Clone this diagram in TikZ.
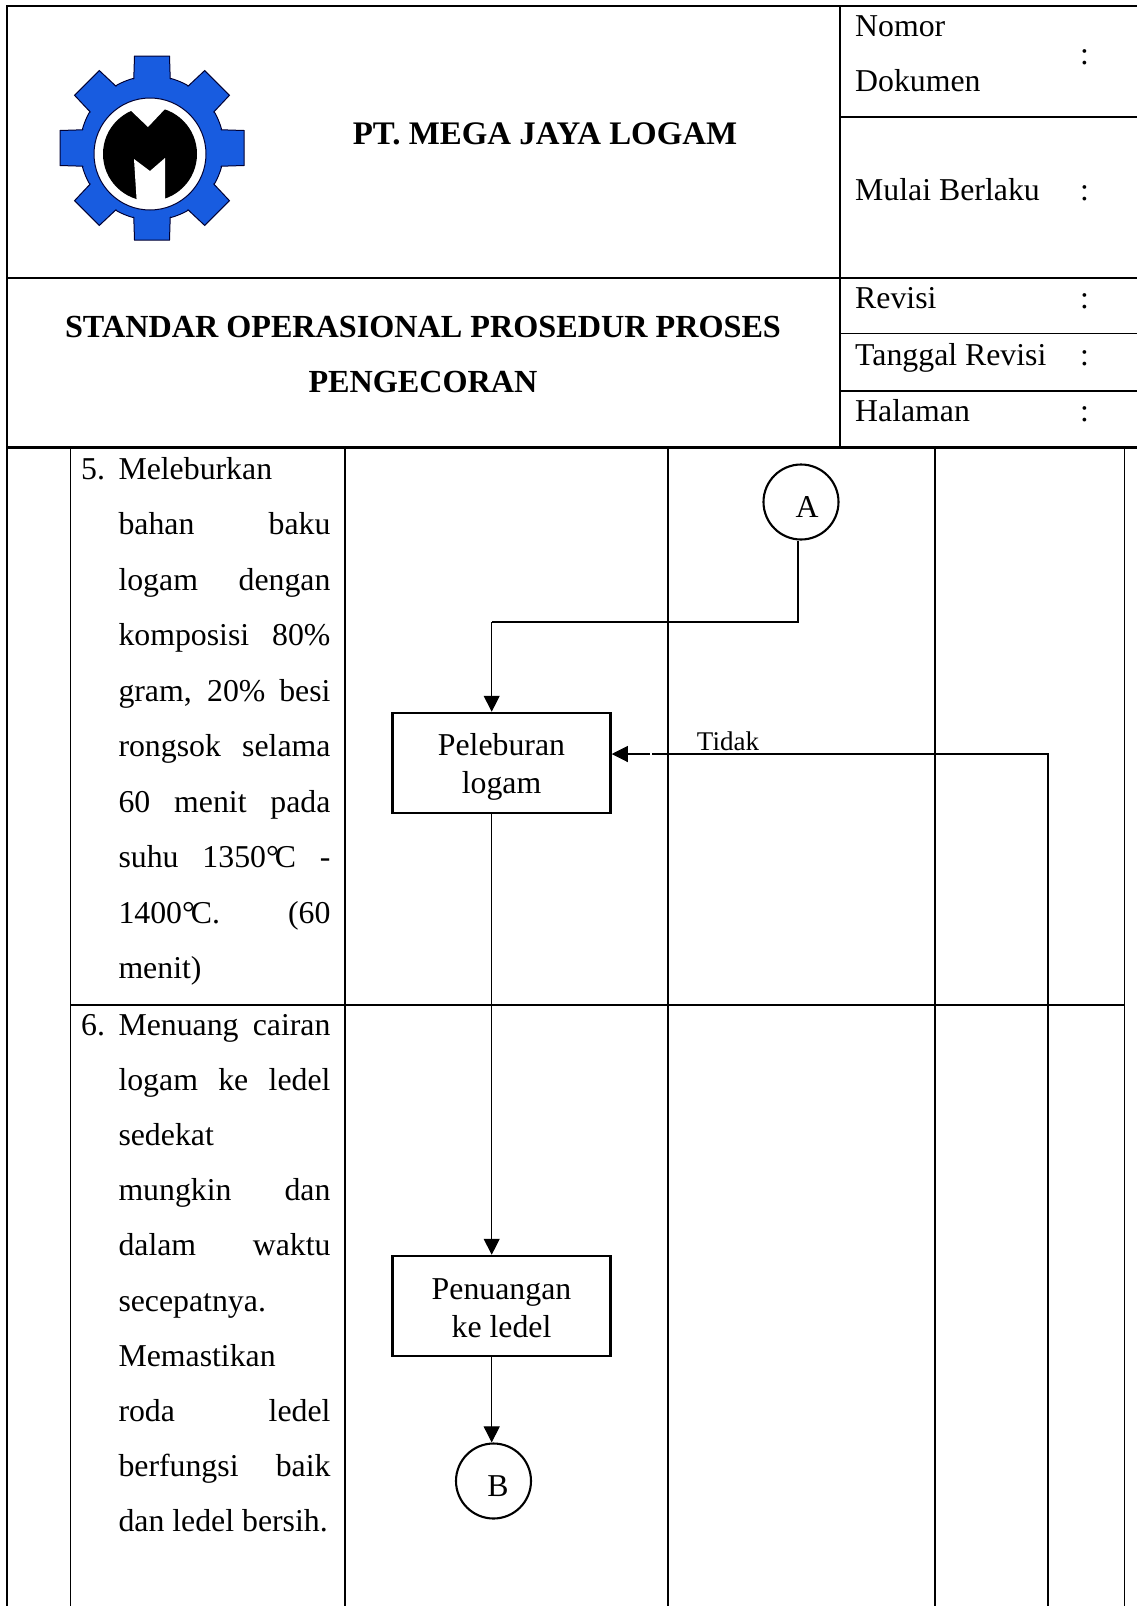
\documentclass[tikz,border=0pt]{standalone}
\usepackage{fontspec}
\setmainfont{Liberation Serif}
\usetikzlibrary{arrows.meta, calc}

\begin{document}
\begin{tikzpicture}[
    x=1pt,
    y=-1pt,
    >={Triangle[length=16pt,width=16pt]},
    font=\fontsize{31.8}{55.2}\selectfont,
    gridline/.style={line width=1.7pt},
    flowline/.style={line width=1.05pt},
    flowbox/.style={draw, line width=2.5pt, minimum width=218pt, minimum height=100pt, inner sep=0pt},
    flowtext/.style={align=center, inner sep=0pt, font=\fontsize{31.8}{38.5}\selectfont},
    connector/.style={draw, circle, line width=2.1pt, minimum size=75pt, inner sep=0pt},
    celltext/.style={anchor=base west, inner sep=0pt},
    bodytext/.style={anchor=base west, inner sep=0pt, text width=212pt, align=justify},
    titletext/.style={anchor=base, inner sep=0pt, font=\fontsize{32.2}{55.2}\selectfont\bfseries},
]
\useasboundingbox (0,0) rectangle (1137,1606);

% -------------------------------------------------
% Header table
% -------------------------------------------------
\draw[gridline] (1137,6) -- (7,6) -- (7,1606);
\draw[gridline] (840,6) -- (840,447);
\draw[gridline] (840,117) -- (1137,117);
\draw[gridline] (7,278) -- (1137,278);
\draw[gridline] (840,333.5) -- (1137,333.5);
\draw[gridline] (840,391) -- (1137,391);
\draw[line width=3pt] (7,447) -- (1137,447);

% -------------------------------------------------
% Logo (gear with M)
% -------------------------------------------------
\definecolor{logoblue}{RGB}{24,92,224}
\begin{scope}[shift={(152,148)}]
    \draw[fill=logoblue, draw=black!80!blue, line width=1pt] (0,0) circle (72);
    \foreach \ang in {0,45,...,315} {
        \draw[fill=logoblue, draw=black!80!blue, line width=1pt, rotate=\ang]
            (-18.5,-60) -- (-17.5,-92) -- (17.5,-92) -- (18.5,-60) -- cycle;
    }
    \fill[logoblue] (0,0) circle (71);
\end{scope}
\begin{scope}[shift={(150,154)}]
    \draw[fill=white, draw=black!80!blue, line width=1pt] (0,0) circle (56);
    \fill[black] (0,0) circle (47);
    \fill[white] (-24,-48) -- (-2,-27) -- (15,-45) -- (20,-50) -- cycle;
    \fill[white] (-16,5) -- (0,17) -- (15,4) -- (15,52) -- (-13,52) -- cycle;
\end{scope}

% -------------------------------------------------
% Header texts
% -------------------------------------------------
\node[titletext, font=\fontsize{32.9}{55.2}\selectfont\bfseries] (company) at (545,144) {PT. MEGA JAYA LOGAM};
\node[titletext] (sopA) at (423,337) {STANDAR OPERASIONAL PROSEDUR PROSES};
\node[titletext] (sopB) at (423,392) {PENGECORAN};

\node[celltext] (nomor) at (855,36) {Nomor};
\node[celltext] (dokumen) at (855,91) {Dokumen};
\node[celltext] (mulai) at (855,200) {Mulai Berlaku};
\node[celltext] (revisi) at (855,308) {Revisi};
\node[celltext] (tanggal) at (855,365) {Tanggal Revisi};
\node[celltext] (halaman) at (855,421) {Halaman};

\node[celltext] (colonA) at (1080,64) {:};
\node[celltext] (colonB) at (1080,200) {:};
\node[celltext] (colonC) at (1080,308) {:};
\node[celltext] (colonD) at (1080,365) {:};
\node[celltext] (colonE) at (1080,421) {:};

% -------------------------------------------------
% Procedure table
% -------------------------------------------------
\foreach \xpos in {70.5,345,668,935,1124.5} {
    \draw[gridline] (\xpos,447) -- (\xpos,1606);
}
\draw[gridline] (70.5,1005) -- (1124.5,1005);

% --- Step texts ---
\node[celltext] (numA) at (81,479) {5.};
\node[bodytext, font=\fontsize{31.8}{55.55}\selectfont] (stepA) at (118.3,479) {Meleburkan\linebreak
bahan baku\linebreak
logam dengan\linebreak
komposisi 80\%\linebreak
gram, 20\% besi\linebreak
rongsok selama\linebreak
60 menit pada\linebreak
suhu 1350°\kern-4pt C -\linebreak
1400°\kern-4pt C. (60\linebreak
menit)};

\node[celltext] (numB) at (81,1035) {6.};
\node[bodytext] (stepB) at (118.3,1035) {Menuang cairan\linebreak
logam ke ledel\linebreak
sedekat\linebreak
mungkin dan\linebreak
dalam waktu\linebreak
secepatnya.\linebreak
Memastikan\linebreak
roda ledel\linebreak
berfungsi baik\linebreak
dan ledel bersih.};

% -------------------------------------------------
% Flow nodes
% -------------------------------------------------
\node[connector] (circA) at (801,502) {};
\node[inner sep=0pt] (labelA) at (807,507) {A};
\node[flowbox] (lebur) at (501.5,763) {};
\node[flowtext] (leburText) at (501.5,767) {Peleburan\\logam};
\node[flowbox] (tuang) at (501.5,1306) {};
\node[flowtext] (tuangText) at (501.5,1308) {Penuangan\\ke ledel};
\node[connector] (circB) at (493.5,1481) {};
\node[inner sep=0pt] (labelB) at (498,1486) {B};
\node[inner sep=0pt, font=\fontsize{27}{30}\selectfont] (tidak) at (728,741) {Tidak};

% --- Transitions ---
\coordinate (elbowA) at (798,622);
\coordinate (elbowB) at (491.7,622);
\coordinate (backTurn) at (1048,754);
\coordinate (backEnd) at (1048,1606);
\coordinate (backGap) at (652,754);
\coordinate (backGapB) at (650,754);

\draw[flowline] (circA.south -| elbowA) -- (elbowA) -- (elbowB);
\draw[flowline,->] (elbowB) -- (lebur.north -| elbowB);
\draw[flowline,->] (lebur.south -| elbowB) -- (tuang.north -| elbowB);
\draw[flowline,->] (tuang.south -| elbowB) -- (circB.north -| elbowB);
\draw[flowline] (backEnd) -- (backTurn) -- (backGap);
\draw[flowline,->] (backGapB) -- (lebur.east |- backGapB);

\end{tikzpicture}
\end{document}
